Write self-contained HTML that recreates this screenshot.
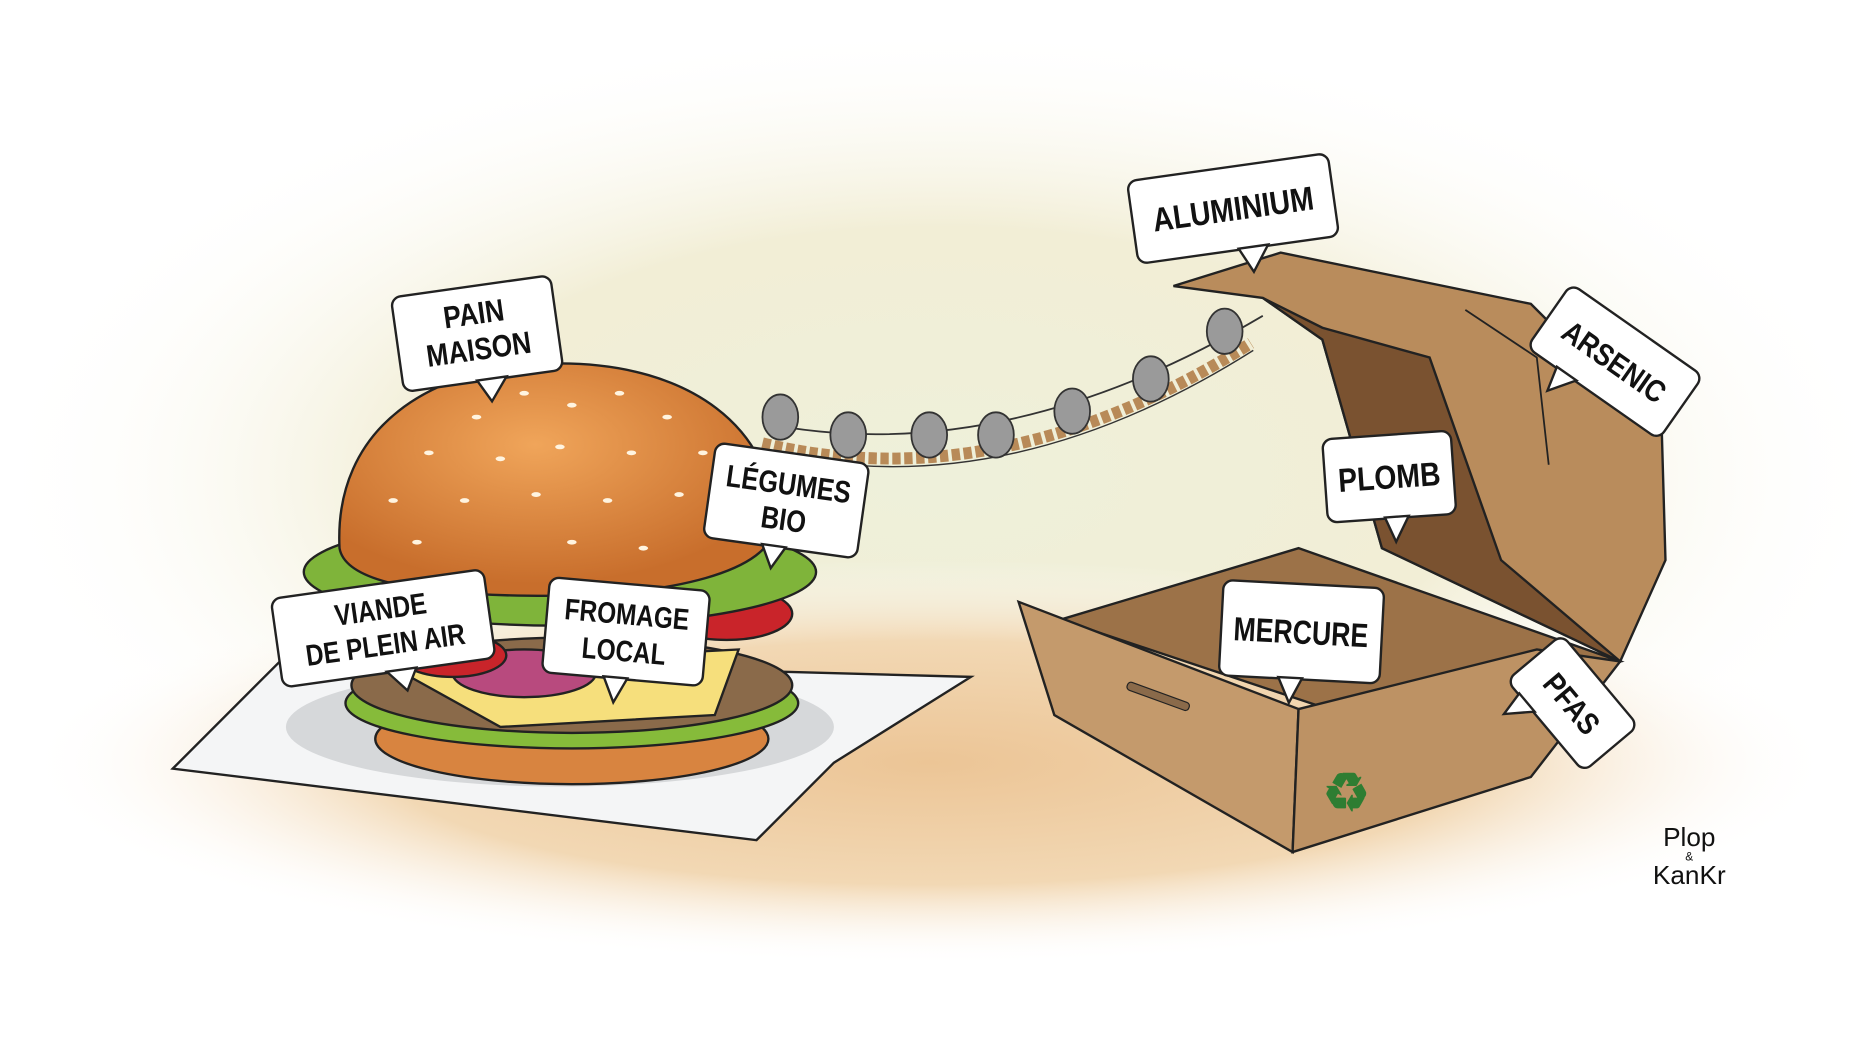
<!DOCTYPE html>
<html><head><meta charset="utf-8"><style>
html,body{margin:0;padding:0;background:#fff;}
svg{display:block}
text{font-family:"Liberation Sans Narrow","Liberation Sans",sans-serif;font-weight:bold;fill:#111;text-anchor:middle}
</style></head><body>
<svg width="1868" height="1063" viewBox="0 0 1568 892" preserveAspectRatio="none" xmlns="http://www.w3.org/2000/svg">
<defs>
<radialGradient id="bg" cx="0.5" cy="0.5" r="0.5">
<stop offset="0" stop-color="#eef0da"/><stop offset="0.55" stop-color="#f2eed6"/><stop offset="1" stop-color="#ffffff" stop-opacity="0"/>
</radialGradient>
<radialGradient id="gr" cx="0.5" cy="0.5" r="0.5">
<stop offset="0" stop-color="#ecc596"/><stop offset="0.6" stop-color="#f2d8b4"/><stop offset="1" stop-color="#ffffff" stop-opacity="0"/>
</radialGradient>
<radialGradient id="bun" cx="0.45" cy="0.35" r="0.6">
<stop offset="0" stop-color="#f0a55a"/><stop offset="1" stop-color="#c86e2c"/>
</radialGradient>
</defs>
<rect width="1568" height="892" fill="#fff"/>
<ellipse cx="790" cy="400" rx="800" ry="380" fill="url(#bg)"/>
<ellipse cx="780" cy="640" rx="760" ry="170" fill="url(#gr)"/>
<!-- napkin -->
<polygon points="145,645 240,550 520,560 815,568 700,640 635,705" fill="#f4f5f6" stroke="#222" stroke-width="2"/>
<ellipse cx="470" cy="610" rx="230" ry="50" fill="#d6d8da"/>
<ellipse cx="480" cy="620" rx="165" ry="38" fill="#d88440" stroke="#222" stroke-width="2"/>
<ellipse cx="480" cy="590" rx="190" ry="38" fill="#86bb3a" stroke="#222" stroke-width="2"/>
<ellipse cx="480" cy="575" rx="185" ry="40" fill="#8a6a4a" stroke="#222" stroke-width="2"/>
<polygon points="330,560 620,545 600,600 420,610" fill="#f6df7c" stroke="#222" stroke-width="2"/>
<ellipse cx="610" cy="515" rx="55" ry="22" fill="#c9242a" stroke="#222" stroke-width="2"/>
<ellipse cx="440" cy="565" rx="60" ry="20" fill="#b84a7e" stroke="#222" stroke-width="2"/>
<ellipse cx="380" cy="550" rx="45" ry="18" fill="#c9242a" stroke="#222" stroke-width="2"/>
<ellipse cx="470" cy="480" rx="215" ry="45" fill="#7fb43a" stroke="#222" stroke-width="2"/>
<path d="M285,460 C280,360 360,305 470,305 C580,305 650,360 650,440 C650,480 560,500 460,500 C360,500 290,490 285,460 Z" fill="url(#bun)" stroke="#222" stroke-width="2"/>
<g fill="#fff4e0">
<ellipse cx="400" cy="350" rx="4" ry="2"/><ellipse cx="440" cy="330" rx="4" ry="2"/><ellipse cx="480" cy="340" rx="4" ry="2"/><ellipse cx="520" cy="330" rx="4" ry="2"/><ellipse cx="560" cy="350" rx="4" ry="2"/><ellipse cx="360" cy="380" rx="4" ry="2"/><ellipse cx="420" cy="385" rx="4" ry="2"/><ellipse cx="470" cy="375" rx="4" ry="2"/><ellipse cx="530" cy="380" rx="4" ry="2"/><ellipse cx="590" cy="380" rx="4" ry="2"/><ellipse cx="330" cy="420" rx="4" ry="2"/><ellipse cx="390" cy="420" rx="4" ry="2"/><ellipse cx="450" cy="415" rx="4" ry="2"/><ellipse cx="510" cy="420" rx="4" ry="2"/><ellipse cx="570" cy="415" rx="4" ry="2"/><ellipse cx="620" cy="420" rx="4" ry="2"/><ellipse cx="350" cy="455" rx="4" ry="2"/><ellipse cx="480" cy="455" rx="4" ry="2"/><ellipse cx="540" cy="460" rx="4" ry="2"/>
</g>
<!-- box -->
<polygon points="985,240 1075,212 1285,255 1395,365 1398,470 1360,555 1160,460 1110,285 1060,250" fill="#b98c5c" stroke="#222" stroke-width="2"/>
<polygon points="1060,250 1110,285 1160,460 1360,555 1260,470 1200,300 1110,275" fill="#7a5230" stroke="#222" stroke-width="2"/>
<path d="M1230,260 L1290,300 L1300,390" fill="none" stroke="#222" stroke-width="1.5"/>
<polygon points="890,520 1090,460 1360,555 1130,600" fill="#9c7248" stroke="#222" stroke-width="2"/>
<polygon points="855,505 1090,595 1085,715 885,600" fill="#c49a6c" stroke="#222" stroke-width="2"/>
<polygon points="1090,595 1290,545 1360,555 1285,652 1085,715" fill="#bd9264" stroke="#222" stroke-width="2"/>
<rect x="945" y="580" width="55" height="7" rx="3" fill="#8a6a4a" stroke="#222" transform="rotate(20 970 583)"/>
<text x="1130" y="680" style="fill:#2e7d32;font-size:44px">♻</text>
<!-- bridge -->
<path d="M640,372 Q840,420 1050,288" fill="none" stroke="#b88a58" stroke-width="10" stroke-dasharray="7 3"/>
<path d="M640,378 Q840,428 1052,294" fill="none" stroke="#333" stroke-width="1.2"/>
<path d="M640,355 Q840,395 1060,265" fill="none" stroke="#333" stroke-width="1.5"/>
<g fill="#9a9a9a" stroke="#333" stroke-width="1.5">
<ellipse cx="655" cy="350" rx="15" ry="19"/><ellipse cx="712" cy="365" rx="15" ry="19"/><ellipse cx="780" cy="365" rx="15" ry="19"/><ellipse cx="836" cy="365" rx="15" ry="19"/><ellipse cx="900" cy="345" rx="15" ry="19"/><ellipse cx="966" cy="318" rx="15" ry="19"/><ellipse cx="1028" cy="278" rx="15" ry="19"/>
</g>
<!-- labels -->
<g stroke="#222" stroke-width="2" fill="#fff">
<g transform="rotate(-8 400 280)"><rect x="333" y="240" width="135" height="80" rx="8"/><polygon points="395,319 420,319 405,338" /></g>
<g transform="rotate(8 660 420)"><rect x="595" y="380" width="130" height="80" rx="8"/><polygon points="645,459 665,459 655,478"/></g>
<g transform="rotate(-8 320 530)"><rect x="232" y="490" width="180" height="75" rx="8"/><polygon points="320,564 345,564 335,582"/></g>
<g transform="rotate(5 525 530)"><rect x="458" y="490" width="135" height="80" rx="8"/><polygon points="510,569 530,569 520,590"/></g>
<g transform="rotate(-8 1035 175)"><rect x="950" y="140" width="170" height="70" rx="8"/><polygon points="1035,209 1060,209 1045,230"/></g>
<g transform="rotate(35 1355 300)"><rect x="1290" y="270" width="135" height="65" rx="8"/><polygon points="1320,334 1340,334 1325,355"/></g>
<g transform="rotate(-4 1165 398)"><rect x="1112" y="365" width="108" height="70" rx="8"/><polygon points="1160,434 1180,434 1168,455"/></g>
<g transform="rotate(3 1090 530)"><rect x="1025" y="490" width="135" height="80" rx="8"/><polygon points="1075,569 1095,569 1085,590"/></g>
<g transform="rotate(50 1320 590)"><rect x="1270" y="560" width="100" height="60" rx="8"/><polygon points="1285,619 1305,619 1290,640"/></g>
</g>
<g transform="rotate(-8 400 280)"><g transform="translate(400 0) scale(0.85 1) translate(-400 0)"><text x="400" y="272" font-size="26">PAIN</text><text x="400" y="302" font-size="26">MAISON</text></g></g>
<g transform="rotate(8 660 420)"><g transform="translate(660 0) scale(0.82 1) translate(-660 0)"><text x="660" y="415" font-size="26">LÉGUMES</text><text x="660" y="445" font-size="26">BIO</text></g></g>
<g transform="rotate(-8 320 530)"><g transform="translate(322 0) scale(0.82 1) translate(-322 0)"><text x="322" y="520" font-size="25">VIANDE</text><text x="322" y="550" font-size="25">DE PLEIN AIR</text></g></g>
<g transform="rotate(5 525 530)"><g transform="translate(525 0) scale(0.82 1) translate(-525 0)"><text x="525" y="524" font-size="25">FROMAGE</text><text x="525" y="555" font-size="25">LOCAL</text></g></g>
<g transform="rotate(-8 1035 175)"><g transform="translate(1035 0) scale(0.85 1) translate(-1035 0)"><text x="1035" y="185" font-size="28">ALUMINIUM</text></g></g>
<g transform="rotate(35 1355 300)"><g transform="translate(1357 0) scale(0.85 1) translate(-1357 0)"><text x="1357" y="312" font-size="26">ARSENIC</text></g></g>
<g transform="rotate(-4 1165 398)"><g transform="translate(1166 0) scale(0.85 1) translate(-1166 0)"><text x="1166" y="410" font-size="28">PLOMB</text></g></g>
<g transform="rotate(3 1090 530)"><g transform="translate(1092 0) scale(0.8 1) translate(-1092 0)"><text x="1092" y="540" font-size="28">MERCURE</text></g></g>
<g transform="rotate(50 1320 590)"><g transform="translate(1320 0) scale(0.85 1) translate(-1320 0)"><text x="1320" y="600" font-size="26">PFAS</text></g></g>
<text x="1418" y="710" font-size="22" style="font-weight:normal">Plop</text>
<text x="1418" y="722" font-size="10" style="font-weight:normal">&amp;</text>
<text x="1418" y="742" font-size="22" style="font-weight:normal">KanKr</text>
</svg>
</body></html>
